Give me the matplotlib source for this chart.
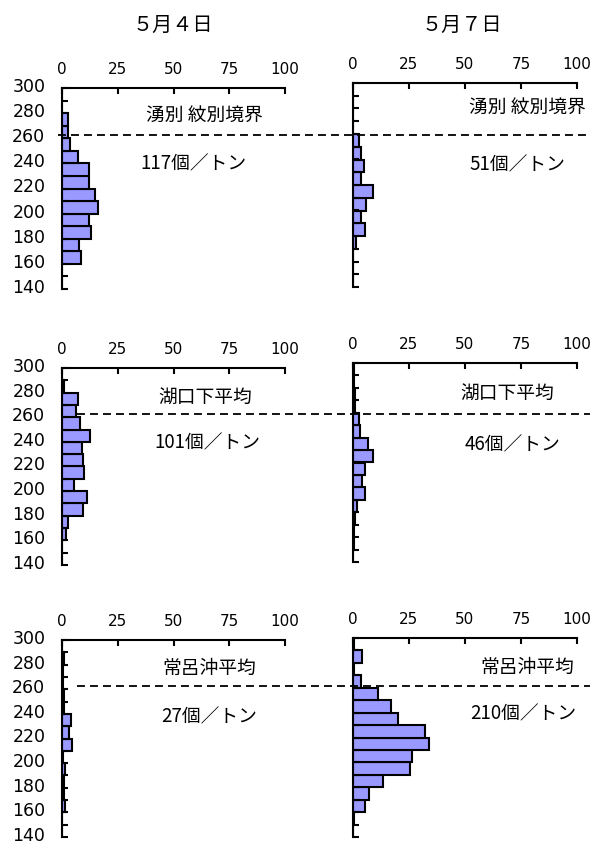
import matplotlib.pyplot as plt
from matplotlib.lines import Line2D
from matplotlib.transforms import ScaledTranslation, blended_transform_factory

# shell length bins (mm), lower edges 140..290
size_bins = list(range(140, 300, 10))

dates = ["５月４日", "５月７日"]
places = ["湧別 紋別境界", "湖口下平均", "常呂沖平均"]

# counts per bin, bottom (140) to top (290)
may4_yubetsu = [0, 0, 8.5, 7.5, 13, 12, 16, 15, 12, 12, 7, 3.5, 2.5, 2.5, 0, 0]
may7_yubetsu = [0, 0, 0, 1.5, 5.5, 3.5, 6, 9, 3.5, 5, 3.5, 2.5, 0, 0, 0, 0]
may4_koguchi = [0, 0, 2, 2.5, 9.5, 11, 5.5, 10, 9.5, 9, 12.5, 8, 6.5, 7, 1, 0]
may7_koguchi = [0, 0.3, 0.5, 1, 2, 5.5, 4, 5.5, 9, 6.5, 3, 2.5, 1, 0.7, 0.5, 0.3]
may4_tokoro = [0, 0, 1.5, 1, 1, 1.5, 0.5, 4.5, 3, 4, 1, 1, 0.5, 0.5, 1, 0]
may7_tokoro = [0, 0.5, 5.5, 7, 13.5, 25.5, 26.5, 34, 32, 20, 17, 11, 3.5, 0.5, 4, 0.5]

totals = ["117個／トン", "51個／トン", "101個／トン", "46個／トン", "27個／トン", "210個／トン"]
border_size = 260

values = [may4_yubetsu, may7_yubetsu, may4_koguchi, may7_koguchi, may4_tokoro, may7_tokoro]

jp = ['Noto Sans CJK JP', 'DejaVu Sans']
W, H = 590, 848

# panel boxes in pixels: left, top, right, bottom
boxes = [(62, 88, 285, 289), (353, 83, 577, 287),
         (62, 368, 285, 565), (353, 363, 577, 562),
         (62, 640, 285, 837), (353, 638, 577, 837)]
place_pos = [(0.64, 0.865, 'center'), (0.52, 0.88, 'left'),
             (0.64, 0.853, 'center'), (0.69, 0.85, 'center'),
             (0.66, 0.858, 'center'), (0.78, 0.85, 'center')]
total_pos = [(0.59, 0.62), (0.735, 0.60), (0.65, 0.62), (0.71, 0.59), (0.66, 0.61), (0.76, 0.62)]
line_start = [58, 77, 77]

fig = plt.figure(figsize=(W / 100, H / 100), dpi=100)
shift = ScaledTranslation(0, 3 / 100, fig.dpi_scale_trans)

for i in range(6):
    l, t, r, b = boxes[i]
    ax = fig.add_axes([l / W, 1 - b / H, (r - l) / W, (b - t) / H])
    ax.barh(size_bins, values[i], height=10, align='edge',
            color='#9999FF', edgecolor='black', linewidth=1.5)
    ax.set_xlim(0, 100)
    ax.set_ylim(140, 300)
    ax.set_xticks([0, 25, 50, 75, 100])
    ax.set_yticks(range(140, 301, 20))
    ax.set_yticks(range(150, 300, 20), minor=True)
    ax.xaxis.tick_top()
    ax.tick_params(axis='x', direction='in', length=4, width=1.5, pad=8, labelsize=11)
    ax.tick_params(axis='y', which='both', direction='in', length=4, width=1.5, pad=12, labelsize=12.5)
    for s in ['right', 'bottom']:
        ax.spines[s].set_visible(False)
    for s in ['left', 'top']:
        ax.spines[s].set_linewidth(1.5)
    if i % 2 == 1:
        ax.set_yticklabels([])
    else:
        for lab in ax.get_yticklabels():
            lab.set_transform(lab.get_transform() + shift)

    px, py, ha = place_pos[i]
    ax.text(px, py, places[i // 2], transform=ax.transAxes, ha=ha, va='center',
            fontsize=13.5, family=jp)
    tx, ty = total_pos[i]
    ax.text(tx, ty, totals[i], transform=ax.transAxes, ha='center', va='center',
            fontsize=13.5, family=jp)

    if i % 2 == 0:
        tr = blended_transform_factory(fig.transFigure, ax.transData) + shift
        fig.add_artist(Line2D([line_start[i // 2] / W, 1], [border_size, border_size],
                              transform=tr, color='black', linewidth=1.3,
                              linestyle=(0, (4.4, 2.8))))

fig.text(173 / W, 1 - 25 / H, dates[0], ha='center', va='center', fontsize=14.5, family=jp)
fig.text(462 / W, 1 - 25 / H, dates[1], ha='center', va='center', fontsize=14.5, family=jp)

fig.savefig('out.png', dpi=100)
